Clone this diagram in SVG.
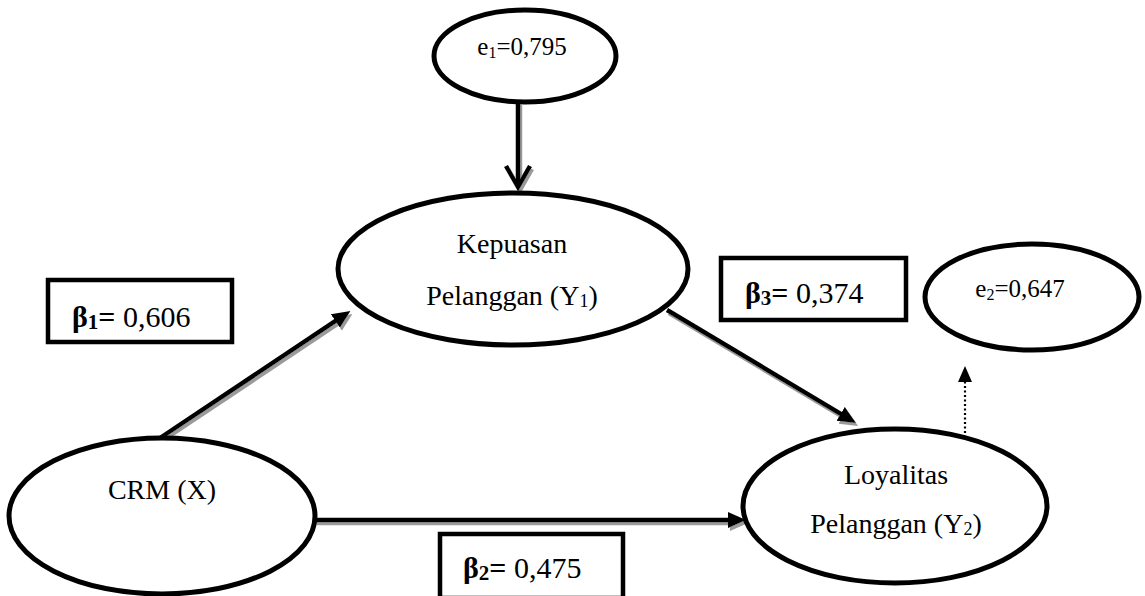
<svg xmlns="http://www.w3.org/2000/svg" width="1145" height="596" viewBox="0 0 1145 596">
<style>
.node{fill:#fff;stroke:#000;stroke-width:5}
.box{fill:#fff;stroke:#000;stroke-width:4.5}
.t{font-family:"Liberation Serif","Times New Roman",serif;fill:#000;text-anchor:middle}
.lbl{font-size:28px}
.err{font-size:25px}
.beta{font-family:"Liberation Serif","Times New Roman",serif;fill:#000;font-size:30px}
.b{font-weight:bold}
.conn{stroke:#000;stroke-width:4.5;fill:none}
</style>
<defs>
<filter id="shadow" x="-10%" y="-10%" width="130%" height="130%">
<feFlood flood-color="#9a9a9a" result="c"/>
<feComposite in="c" in2="SourceAlpha" operator="in" result="s"/>
<feOffset in="s" dx="2" dy="2.5" result="o"/>
<feMerge><feMergeNode in="o"/><feMergeNode in="SourceGraphic"/></feMerge>
</filter>
<marker id="ah" markerUnits="userSpaceOnUse" markerWidth="20" markerHeight="18" refX="6" refY="8" orient="auto" viewBox="0 0 20 18">
<path d="M0,0 L18,8 L0,16 z" fill="#000"/>
</marker>
</defs>

<g id="connectors">
<g filter="url(#shadow)">
<line class="conn" x1="518" y1="102" x2="518" y2="186"/>
<polyline class="conn" points="506,166 518,187 530,166" stroke-width="5" stroke-linejoin="miter"/>
<line class="conn" x1="160" y1="438" x2="340.4" y2="317.7" marker-end="url(#ah)"/>
<line class="conn" x1="667" y1="310" x2="845.8" y2="416.9" marker-end="url(#ah)"/>
<line class="conn" x1="315" y1="520" x2="734" y2="520" marker-end="url(#ah)"/>
</g>
<line x1="965" y1="433" x2="965" y2="381" stroke="#000" stroke-width="2.2" stroke-dasharray="2,2.5"/>
<polygon points="958,382 972,382 965,366" fill="#000"/>
</g>

<g id="e1">
<ellipse class="node" cx="525" cy="56" rx="91" ry="46"/>
<text class="t err" x="522" y="55">e<tspan font-size="16" dy="3">1</tspan><tspan dy="-3">=0,795</tspan></text>
</g>

<g id="kepuasan">
<ellipse class="node" cx="513" cy="269" rx="175" ry="76"/>
<text class="t lbl" x="512" y="253">Kepuasan</text>
<text class="t lbl" x="512" y="305">Pelanggan (Y<tspan font-size="18" dy="2">1</tspan><tspan dy="-2">)</tspan></text>
</g>

<g id="crm">
<ellipse class="node" cx="162" cy="516" rx="153" ry="78"/>
<text class="t lbl" x="162" y="499">CRM (X)</text>
</g>

<g id="loyalitas">
<ellipse class="node" cx="895" cy="506" rx="152" ry="77"/>
<text class="t lbl" x="896" y="484">Loyalitas</text>
<text class="t lbl" x="896" y="533">Pelanggan (Y<tspan font-size="18" dy="2">2</tspan><tspan dy="-2">)</tspan></text>
</g>

<g id="e2">
<ellipse class="node" cx="1032" cy="297" rx="107" ry="53"/>
<text class="t err" x="1020" y="297">e<tspan font-size="16" dy="3">2</tspan><tspan dy="-3">=0,647</tspan></text>
</g>

<g id="beta1">
<rect class="box" x="48" y="280" width="184" height="62"/>
<text class="beta" x="72" y="327"><tspan class="b">β</tspan><tspan class="b" font-size="21" dy="2">1</tspan><tspan class="b" dy="-2">=</tspan> 0,606</text>
</g>

<g id="beta3">
<rect class="box" x="721" y="258" width="185" height="62"/>
<text class="beta" x="745" y="303"><tspan class="b">β</tspan><tspan class="b" font-size="21" dy="2">3</tspan><tspan class="b" dy="-2">=</tspan> 0,374</text>
</g>

<g id="beta2">
<rect class="box" x="440" y="534" width="183" height="64"/>
<text class="beta" x="463" y="578"><tspan class="b">β</tspan><tspan class="b" font-size="21" dy="2">2</tspan><tspan class="b" dy="-2">=</tspan> 0,475</text>
</g>
</svg>
